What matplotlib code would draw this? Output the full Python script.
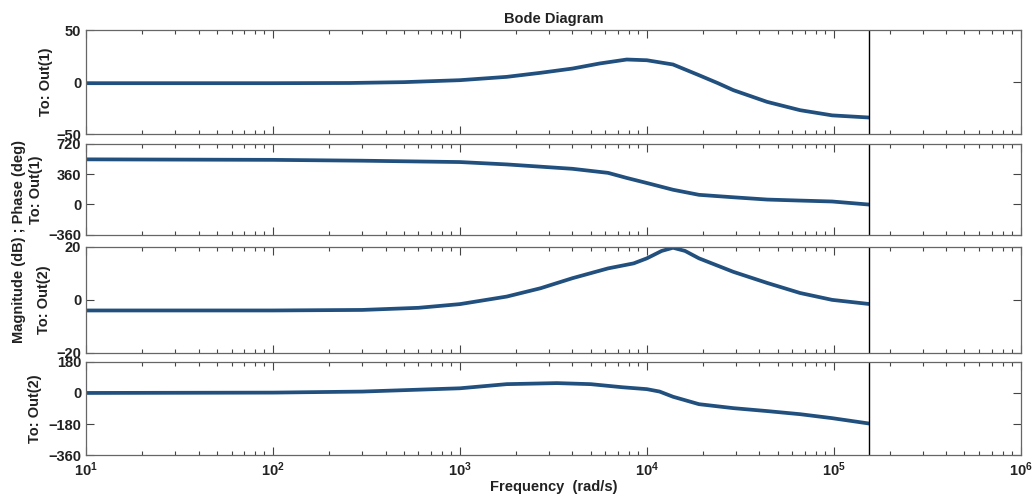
import matplotlib.pyplot as plt
import numpy as np
from matplotlib.ticker import LogLocator, NullFormatter

# frequency samples (rad/s) and values
freq_mag1 = [10, 100, 257, 500, 1000, 1780, 2700, 4000, 5600, 7800, 1.0e4,
             1.38e4, 1.9e4, 2.4e4, 2.9e4, 4.4e4, 6.6e4, 9.8e4, 1.52e5]
mag1 = [-1, -1, -0.8, 0, 1.9, 5.1, 9, 13.1, 18, 21.8, 21.1,
        17, 6.7, -1, -7.7, -19, -27, -32, -34]

freq_ph1 = [10, 100, 300, 1000, 1780, 4000, 6200, 7800, 1.0e4, 1.38e4,
            1.9e4, 2.9e4, 4.4e4, 6.6e4, 9.8e4, 1.52e5]
ph1 = [534, 528, 518, 502, 474, 422, 374, 314, 254, 174,
       114, 85, 58, 46, 35, 0]

freq_mag2 = [10, 100, 300, 600, 1000, 1780, 2700, 4000, 6200, 8500, 1.0e4,
             1.2e4, 1.38e4, 1.6e4, 1.9e4, 2.9e4, 4.4e4, 6.6e4, 9.8e4, 1.52e5]
mag2 = [-4, -4, -3.8, -3, -1.6, 1.25, 4.4, 8.2, 11.9, 13.8, 15.7,
        18.5, 19.7, 18.5, 15.7, 10.6, 6.4, 2.6, 0, -1.5]

freq_ph2 = [10, 100, 300, 1000, 1780, 3300, 5000, 7400, 1.0e4, 1.17e4,
            1.38e4, 1.9e4, 2.9e4, 4.4e4, 6.6e4, 9.8e4, 1.52e5]
ph2 = [0, 2, 8, 27, 51, 57, 51, 33, 22, 8,
       -22, -65, -88, -105, -123, -146, -176]

f_end = 1.55e5

panel_labels = ["To: Out(1)", "To: Out(1)", "To: Out(2)", "To: Out(2)"]
ylims = [(-50, 50), (-360, 720), (-20, 20), (-360, 180)]
yticks = [[-50, 0, 50], [-360, 0, 360, 720], [-20, 0, 20], [-360, -180, 0, 180]]
label_x = [-0.035, -0.046, -0.037, -0.047]

plt.rcParams['font.family'] = ['Liberation Sans', 'DejaVu Sans']
plt.rcParams['font.weight'] = 'bold'

fig = plt.figure(figsize=(10.34, 5.04), dpi=100)

# axes boxes in figure fraction: [left, bottom, width, height]
boxes = [
    [0.0832, 0.734, 0.904, 0.206],
    [0.0832, 0.534, 0.904, 0.181],
    [0.0832, 0.300, 0.904, 0.210],
    [0.0832, 0.097, 0.904, 0.185],
]
series = [(freq_mag1, mag1), (freq_ph1, ph1), (freq_mag2, mag2), (freq_ph2, ph2)]
line_color = '#22507e'

axes = []
for i, box in enumerate(boxes):
    ax = fig.add_axes(box)
    f, v = series[i]
    ax.plot(f, v, color=line_color, lw=2.7, solid_joinstyle='round')
    ax.axvline(f_end, color='black', lw=1)
    ax.set_xscale('log')
    ax.set_xlim(10, 1e6)
    ax.set_ylim(*ylims[i])
    ax.set_yticks(yticks[i])
    ax.xaxis.set_major_locator(LogLocator(base=10, numticks=10))
    ax.xaxis.set_minor_locator(LogLocator(base=10, subs=np.arange(2, 10), numticks=20))
    ax.xaxis.set_minor_formatter(NullFormatter())
    ax.tick_params(which='both', direction='in', top=True, right=True,
                   colors='#444444', labelcolor='#222222', labelsize=10.5)
    ax.tick_params(which='major', length=6, width=0.8)
    ax.tick_params(which='minor', length=3, width=0.8)
    for s in ax.spines.values():
        s.set_color('#666666')
        s.set_linewidth(0.9)
    ax.set_ylabel(panel_labels[i], fontsize=10.5, fontweight='bold', color='#222222')
    ax.yaxis.set_label_coords(label_x[i], 0.5)
    if i < 3:
        ax.set_xticklabels([])
    axes.append(ax)

axes[0].set_title('Bode Diagram', fontsize=10.5, fontweight='bold', color='#222222', pad=5)
axes[3].set_xlabel('Frequency  (rad/s)', fontsize=10.5, fontweight='bold',
                   color='#222222', labelpad=1)
fig.text(0.018, 0.52, 'Magnitude (dB) ; Phase (deg)', rotation=90, ha='center',
         va='center', fontsize=10.5, fontweight='bold', color='#222222')

fig.savefig('out.png', dpi=100)
